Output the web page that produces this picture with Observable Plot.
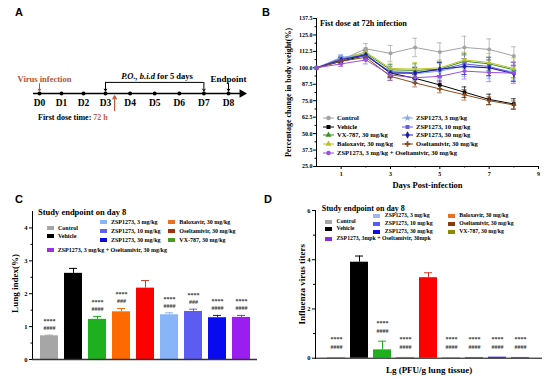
<!DOCTYPE html>
<html><head><meta charset="utf-8">
<script src="https://cdn.jsdelivr.net/npm/d3@7"></script>
<script src="https://cdn.jsdelivr.net/npm/@observablehq/plot@0.6"></script>
<style>
body{margin:0;background:#fff;}
#fig{position:relative;width:550px;height:382px;overflow:hidden;font-family:"Liberation Serif",serif;}
#fig svg{position:absolute;overflow:visible;}
.t{position:absolute;font-weight:bold;white-space:nowrap;line-height:1;transform:translate(0,-50%);color:#000;}
.tc{transform:translate(-50%,-50%);}
.sw{position:absolute;}
.pl{position:absolute;font:bold 11px "Liberation Sans",sans-serif;}
</style></head><body><div id="fig"></div><script>
// ---------- Panel A (schematic) ----------
const daysA = [0,1,2,3,4,5,6,7,8];
const dayLabelsA = ["D0","D1","D2","D3","D4","D5","D6","D7","D8"];
const downArrowsA = [{day:0,color:"#b0563c"},{day:3,color:"#000"},{day:7,color:"#000"},{day:8,color:"#000"}];
const firstDoseDayA = [3.37];

// ---------- Panel B (body weight) ----------
const seriesB = ["Control","Vehicle","VX-787, 30 mg/kg","Baloxavir, 30 mg/kg","ZSP1273, 3 mg/kg","ZSP1273, 10 mg/kg","ZSP1273, 30 mg/kg","Oseltamivir, 30 mg/kg","ZSP1273, 3 mg/kg + Oseltamivir, 30 mg/kg"];
const colorsB = ["#a3a3a3","#000000","#3f8f2a","#b8c422","#80a8ea","#6a5ae6","#1c1ca8","#8b4a1e","#9a50e6"];
const symbolsB = ["circle","square","triangle","triangle","star","square","diamond","cross","circle"];
const daysB = [0,1,2,3,4,5,6,7,8];
const wControl  = [100,106,114.5,111,115.5,112,115.5,114,109];
const wVehicle  = [100,105,109.5,96,92,87,81.5,76,72.5];
const wVX       = [100,106,111,98.5,98,99,105,103,98.5];
const wBalox    = [100,107,112,99.5,99,100,106,104,99.5];
const wZ3       = [100,108,110,97,95.5,97.5,101.5,100,97];
const wZ10      = [100,107,109,97,96.5,98.5,103,101,96];
const wZ30      = [100,106,110,96,96,99,101,100,95.5];
const wOsel     = [100,105,108,93.5,88.5,84,79.5,75,71.8];
const wCombo    = [100,103,106,94.5,92.5,93.5,97.5,96.5,96];
const eControl  = [0,2,4,6,7,7,8.5,8,7];
const eVehicle  = [0,2,2,3,3,3,4,4,4];
const eVX       = [0,2,3,4,5,5,5,5,6];
const eBalox    = [0,2,3,4,5,6,6,7,8];
const eZ3       = [0,2,4,5,5,6,8,8,7];
const eZ10      = [0,2,3,4,4,6,8,7,6];
const eZ30      = [0,2,3,3,4,5,6,6,6];
const eOsel     = [0,2,2,3,3,3,4,3,3];
const eCombo    = [0,2,3,4,4,5,6,7,8];
const yTicksB = [25,37.5,50,62.5,75,87.5,100,112.5,125,137.5];
const yMinorB = [31.25,43.75,56.25,68.75,81.25,93.75,106.25,118.75,131.25];
const xTicksB = [1,3,5,7,9];
const xMinorB = [2,4,6,8];

// ---------- Panel C (lung index) ----------
const groups = ["Control","Vehicle","VX-787","Baloxavir","Oseltamivir","ZSP1273 3","ZSP1273 10","ZSP1273 30","ZSP1273+Oseltamivir"];
const barColors = ["#a6a6a6","#000000","#1eb01e","#ff6a00","#ff0000","#8ab4f8","#5c5cf2","#0a0af0","#9a1ef0"];
const lungIndex = [0.72,2.62,1.22,1.45,2.17,1.36,1.46,1.27,1.28];
const lungErr   = [0.02,0.15,0.09,0.10,0.23,0.06,0.07,0.07,0.06];
const lungStars = ["****","","****","****","","****","****","****","****"];
const lungHash  = ["####","","####","###","","####","###","####","####"];
const yTicksC = [0,1,2,3,4];
const yMinorC = [0.5,1.5,2.5,3.5];

// ---------- Panel D (virus titers) ----------
const titer     = [0.03,3.9,0.34,0.03,3.27,0.03,0.03,0.04,0.03];
const titerErr  = [0,0.25,0.35,0,0.2,0,0,0,0];
const titerStars= ["****","","****","****","","****","****","****","****"];
const titerHash = ["####","","####","####","","####","####","####","####"];
const yTicksD = [0,2,4,6];
const yMinorD = [1,3,5];

const fig = document.getElementById("fig");
function put(node,left,top){node.style.left=left+"px";node.style.top=top+"px";fig.appendChild(node);return node;}
function txt(html,left,cy,size,extra){const d=document.createElement("div");d.className="t";d.innerHTML=html;d.style.fontSize=size+"px";if(extra)Object.assign(d.style,extra);return put(d,left,cy);}
function ctxt(html,cx,cy,size,extra){const d=txt(html,cx,cy,size,extra);d.classList.add("tc");return d;}
function swatch(color,left,cy,w,h){const d=document.createElement("div");d.className="sw";d.style.width=w+"px";d.style.height=h+"px";d.style.background=color;return put(d,left,cy-h/2);}
function panelLabel(s,left,top){const d=document.createElement("div");d.className="pl";d.textContent=s;return put(d,left,top);}
const noLabel = () => "";

// ===== Panel A =====
const plotA = Plot.plot({
  width:275, height:140, marginTop:63, marginBottom:17, marginLeft:0, marginRight:0,
  x:{type:"linear", domain:[0,3,8], range:[39,105,228], axis:null}, y:{domain:[-1,1], axis:null},
  style:{background:"transparent"},
  marks:[
    Plot.ruleY([0],{x1:-0.27,x2:8.5,strokeWidth:1.6}),
    Plot.dot([8.55],{x:d=>d,y:0,symbol:"triangle",rotate:90,r:3.2,fill:"black",stroke:"none"}),
    Plot.dot(daysA,{x:d=>d,y:0,r:2,fill:"black",stroke:"none"}),
    Plot.text(daysA,{x:d=>d,y:0,text:(d,i)=>dayLabelsA[i],dy:9.5,fontSize:9.5,fontFamily:"Liberation Serif",fontWeight:"bold"}),
    Plot.ruleY([0.37],{x1:3,x2:7,strokeWidth:1}),
    Plot.arrow(downArrowsA,{x:"day",y1:d=>d.day===3||d.day===7?0.37:0.33,y2:0.08,stroke:"color",strokeWidth:1,headLength:3.5}),
    Plot.arrow(firstDoseDayA,{x:d=>d,y1:-0.57,y2:-0.08,stroke:"#c0603a",strokeWidth:1.3,headLength:4})
  ]
});
put(plotA,0,0);
panelLabel("A",15,6);
ctxt("Virus infection",44.5,78.5,8.5,{color:"#b0563c"});
ctxt("<i>P.O., b.i.d</i> for 5 days",157,76,8.5);
ctxt("Endpoint",228.5,78.5,9);
txt("First dose time: <span style='color:#c0603a'>72 h</span>",38,118,8);

// ===== Panel B =====
const rowsB = [];
const wAll = [wControl,wVehicle,wVX,wBalox,wZ3,wZ10,wZ30,wOsel,wCombo];
const eAll = [eControl,eVehicle,eVX,eBalox,eZ3,eZ10,eZ30,eOsel,eCombo];
seriesB.forEach((s,i)=>daysB.forEach((d,j)=>rowsB.push({series:s,day:d,value:wAll[i][j],err:eAll[i][j]})));
const plotB = Plot.plot({
  width:275, height:192, marginLeft:41, marginRight:12, marginTop:18, marginBottom:26,
  style:{fontFamily:"Liberation Serif",fontWeight:"bold",fontSize:"6px",background:"transparent"},
  x:{domain:[0,9]}, y:{domain:[25,137.5]},
  color:{domain:seriesB, range:colorsB}, symbol:{domain:seriesB, range:symbolsB},
  marks:[
    Plot.axisY({ticks:yTicksB, tickFormat:d3.format(".1f"), tickSize:3, tickPadding:1, label:null}),
    Plot.axisY({ticks:yMinorB, tickFormat:noLabel, tickSize:1.5, label:null}),
    Plot.axisX({ticks:xTicksB, tickSize:3, tickPadding:2, label:null}),
    Plot.axisX({ticks:xMinorB, tickFormat:noLabel, tickSize:1.5, label:null}),
    Plot.ruleX([0],{strokeWidth:1}), Plot.ruleY([25],{strokeWidth:1}),
    Plot.ruleX(rowsB.filter(d=>d.err>0),{x:"day",y1:d=>d.value-d.err,y2:d=>d.value+d.err,stroke:"series",strokeWidth:0.7}),
    Plot.ruleY(rowsB.filter(d=>d.err>0),{y:d=>d.value+d.err,x1:d=>d.day-0.1,x2:d=>d.day+0.1,stroke:"series",strokeWidth:0.7}),
    Plot.ruleY(rowsB.filter(d=>d.err>0),{y:d=>d.value-d.err,x1:d=>d.day-0.1,x2:d=>d.day+0.1,stroke:"series",strokeWidth:0.7}),
    Plot.line(rowsB,{x:"day",y:"value",stroke:"series",z:"series",strokeWidth:1}),
    Plot.dot(rowsB,{x:"day",y:"value",fill:"series",symbol:"series",r:2,stroke:"none"}),
    Plot.text(["Percentage change in body weight(%)"],{text:d=>d,frameAnchor:"left",textAnchor:"middle",rotate:-90,dx:-28,dy:0,fontSize:8}),
    Plot.text(["Days Post-infection"],{text:d=>d,frameAnchor:"bottom",dy:21,fontSize:8.5})
  ]
});
put(plotB,275,0);
panelLabel("B",262,6);
txt("Fist dose at 72h infection",320,24,8.2);
// legend B
const symMap = {circle:d3.symbolCircle,square:d3.symbolSquare,triangle:d3.symbolTriangle,star:d3.symbolStar,diamond:d3.symbolDiamond,cross:d3.symbolCross};
const legPosB = [[323,118],[323,126.5],[323,135],[323,144],[402,118],[402,126.5],[402,135],[402,144],[323,152.7]];
seriesB.forEach((s,i)=>{
  const [lx,ly] = legPosB[i];
  const svg = d3.create("svg").attr("width",12).attr("height",8);
  svg.append("line").attr("x1",0).attr("x2",11).attr("y1",4).attr("y2",4).attr("stroke",colorsB[i]).attr("stroke-width",1);
  svg.append("path").attr("transform","translate(5.5,4)").attr("d",d3.symbol(symMap[symbolsB[i]],16)()).attr("fill",colorsB[i]);
  put(svg.node(),lx,ly-4);
  txt(s,lx+14,ly,6.6);
});

// ===== Panel C =====
const rowsC = groups.map((g,i)=>({group:g,value:lungIndex[i],err:lungErr[i],stars:lungStars[i],hash:lungHash[i]}));
const plotC = Plot.plot({
  width:275, height:187, marginLeft:32, marginRight:18, marginTop:16, marginBottom:23,
  style:{fontFamily:"Liberation Serif",fontWeight:"bold",fontSize:"6.5px",background:"transparent"},
  x:{domain:groups, paddingInner:0.25, paddingOuter:0.29, axis:null},
  y:{domain:[0,4.5]},
  color:{domain:groups, range:barColors},
  marks:[
    Plot.axisY({ticks:yTicksC, tickFormat:d3.format("d"), tickSize:3, tickPadding:2, label:null}),
    Plot.axisY({ticks:yMinorC, tickFormat:noLabel, tickSize:1.5, label:null}),
    Plot.frame({anchor:"left"}),
    Plot.barY(rowsC,{x:"group",y:"value",fill:"group"}),
    Plot.ruleX(rowsC.filter(d=>d.group!=="Oseltamivir"),{x:"group",y1:"value",y2:d=>d.value+d.err,stroke:"group",strokeWidth:1}),
    Plot.tickY(rowsC.filter(d=>d.group!=="Oseltamivir"),{x:"group",y:d=>d.value+d.err,stroke:"group",insetLeft:5,insetRight:5,strokeWidth:1}),
    Plot.ruleX(rowsC.filter(d=>d.group==="Oseltamivir"),{x:"group",y1:"value",y2:d=>d.value+d.err,stroke:"#c0402a",strokeWidth:1}),
    Plot.tickY(rowsC.filter(d=>d.group==="Oseltamivir"),{x:"group",y:d=>d.value+d.err,stroke:"#c0402a",insetLeft:5,insetRight:5,strokeWidth:1}),
    Plot.ruleY([0],{stroke:"#333",strokeWidth:1.5}),
    Plot.text(rowsC.filter(d=>d.hash),{x:"group",y:d=>d.value+d.err,text:"hash",dy:-7,fontSize:6,fill:"#333"}),
    Plot.text(rowsC.filter(d=>d.stars),{x:"group",y:d=>d.value+d.err,text:"stars",dy:-14,fontSize:6,fill:"#333"}),
    Plot.text(["Lung index(%)"],{text:d=>d,frameAnchor:"left",textAnchor:"middle",rotate:-90,dx:-17,dy:-2,fontSize:9})
  ]
});
put(plotC,0,195);
panelLabel("C",15,193);
txt("Study endpoint on day 8",38,211.7,8.5);
const legC = [
  ["Control","#a6a6a6",47,227.7],["Vehicle","#000",47,236.3],["ZSP1273, 3 mg/kg + Oseltamivir, 30 mg/kg","#9a30e6",46.7,249.7],
  ["ZSP1273, 3 mg/kg","#8ab4f8",100,222.3],["ZSP1273, 10 mg/kg","#6060f0",100,230.7],["ZSP1273, 30 mg/kg","#0a0ae6",100,239.7],
  ["Baloxavir, 30 mg/kg","#e8701e",168.3,222.3],["Oseltamivir, 30 mg/kg","#a0300e",168.3,230.7],["VX-787, 30 mg/kg","#4a9a20",168.3,239.7]
];
legC.forEach(([s,c,x,y])=>{swatch(c,x,y,7,4);txt(s,x+11,y,6);});

// ===== Panel D =====
const rowsD = groups.map((g,i)=>({group:g,value:titer[i],err:titerErr[i],stars:titerStars[i],hash:titerHash[i]}));
const plotD = Plot.plot({
  width:275, height:187, marginLeft:40, marginRight:8, marginTop:15, marginBottom:24.3,
  style:{fontFamily:"Liberation Serif",fontWeight:"bold",fontSize:"6.5px",background:"transparent"},
  x:{domain:groups, paddingInner:0.21, paddingOuter:0.34, axis:null},
  y:{domain:[0,6]},
  color:{domain:groups, range:barColors},
  marks:[
    Plot.axisY({ticks:yTicksD, tickFormat:d3.format("d"), tickSize:3, tickPadding:2, label:null}),
    Plot.axisY({ticks:yMinorD, tickFormat:noLabel, tickSize:2, label:null}),
    Plot.frame({anchor:"left"}),
    Plot.barY(rowsD,{x:"group",y:"value",fill:"group"}),
    Plot.ruleX(rowsD.filter(d=>d.err>0&&d.group!=="Oseltamivir"),{x:"group",y1:"value",y2:d=>d.value+d.err,stroke:"group",strokeWidth:1}),
    Plot.tickY(rowsD.filter(d=>d.err>0&&d.group!=="Oseltamivir"),{x:"group",y:d=>d.value+d.err,stroke:"group",insetLeft:5,insetRight:5,strokeWidth:1}),
    Plot.ruleX(rowsD.filter(d=>d.group==="Oseltamivir"),{x:"group",y1:"value",y2:d=>d.value+d.err,stroke:"#c0402a",strokeWidth:1}),
    Plot.tickY(rowsD.filter(d=>d.group==="Oseltamivir"),{x:"group",y:d=>d.value+d.err,stroke:"#c0402a",insetLeft:5,insetRight:5,strokeWidth:1}),
    Plot.ruleY([0],{stroke:"#000",strokeWidth:1}),
    Plot.text(rowsD.filter(d=>d.hash),{x:"group",y:d=>d.value+d.err,text:"hash",dy:-10,fontSize:6,fill:"#333"}),
    Plot.text(rowsD.filter(d=>d.stars),{x:"group",y:d=>d.value+d.err,text:"stars",dy:-18,fontSize:6,fill:"#333"}),
    Plot.text(["Influenza virus titers"],{text:d=>d,frameAnchor:"left",textAnchor:"middle",rotate:-90,dx:-13,fontSize:9}),
    Plot.text(["Lg (PFU/g lung tissue)"],{text:d=>d,frameAnchor:"bottom",dy:15,fontSize:9})
  ]
});
put(plotD,275,195);
panelLabel("D",264,193);
txt("Study endpoint on day 8",321.7,209.3,8);
const legD = [
  ["Control","#a6a6a6",325,222.3],["Vehicle","#000",325,229.3],["ZSP1273, 3mpk + Oseltamivir, 30mpk","#8030e0",325,239],
  ["ZSP1273, 3 mg/kg","#a0b8f0",373.3,216.3],["ZSP1273, 10 mg/kg","#5a5af5",373.3,224.2],["ZSP1273, 30 mg/kg","#1010e0",373.3,232.2],
  ["Baloxavir, 30 mg/kg","#e8701e",447.7,216.3],["Oseltamivir, 30 mg/kg","#8b3a10",447.7,224.2],["VX-787, 30 mg/kg","#8b8b00",447.7,232.2]
];
legD.forEach(([s,c,x,y])=>{swatch(c,x,y,7,4);txt(s,x+11.5,y,5.8);});
</script></body></html>
